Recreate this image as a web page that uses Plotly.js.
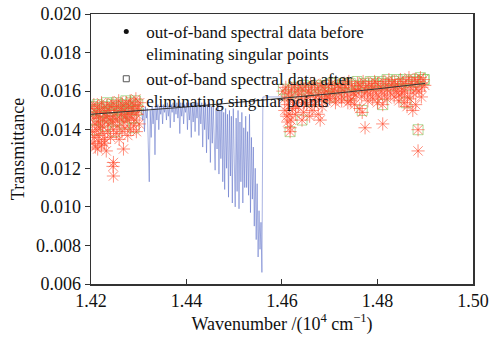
<!DOCTYPE html>
<html><head><meta charset="utf-8">
<script src="https://cdn.plot.ly/plotly-3.0.1.min.js"></script>
<style>html,body{margin:0;padding:0;background:#fff}#chart{width:489px;height:344px}</style>
</head><body><div id="chart"></div>
<script>
// ---- data ----
const xTickVals = [1.42, 1.44, 1.46, 1.48, 1.50];
const xTickText = ['1.42', '1.44', '1.46', '1.48', '1.50'];
const yTickVals = [0.006, 0.008, 0.010, 0.012, 0.014, 0.016, 0.018, 0.020];
const yTickText = ['0.006', '0..008', '0.010', '0.012', '0.014', '0.016', '0.018', '0.020'];

const legendNames = [
  'out-of-band spectral data before<br>eliminating singular points',
  'out-of-band spectral data after<br>eliminating singular points'
];

// in-band spectrum (blue)
const specX = [1.4306,1.4308,1.4310,1.4312,1.4314,1.4316,1.4318,1.4320,1.4322,1.4324,
1.4326,1.4328,1.4330,1.4332,1.4334,1.4336,1.4338,1.4340,1.4342,1.4344,
1.4346,1.4348,1.4350,1.4352,1.4354,1.4356,1.4358,1.4360,1.4362,1.4364,
1.4366,1.4368,1.4370,1.4372,1.4374,1.4376,1.4378,1.4380,1.4382,1.4384,
1.4386,1.4388,1.4390,1.4392,1.4394,1.4396,1.4398,1.4400,1.4402,1.4404,
1.4406,1.4408,1.4410,1.4412,1.4414,1.4416,1.4418,1.4420,1.4422,1.4424,
1.4426,1.4428,1.4430,1.4432,1.4434,1.4436,1.4438,1.4440,1.4442,1.4444,
1.4446,1.4448,1.4450,1.4452,1.4454,1.4456,1.4458,1.4460,1.4462,1.4464,
1.4466,1.4468,1.4470,1.4472,1.4474,1.4476,1.4478,1.4480,1.4482,1.4484,
1.4486,1.4488,1.4490,1.4492,1.4494,1.4496,1.4498,1.4500,1.4502,1.4504,
1.4506,1.4508,1.4510,1.4512,1.4514,1.4516,1.4518,1.4520,1.4522,1.4524,
1.4526,1.4528,1.4530,1.4532,1.4534,1.4536,1.4538,1.4540,1.4542,1.4544,
1.4546,1.4548,1.4550,1.4552,1.4554,1.4556,1.4558,1.4560,1.4562,1.4564,
1.4580,1.4600];
const specY = [0.0150,0.0145,0.0151,0.0139,0.0152,0.0146,0.0151,0.0131,0.0113,0.0150,
0.0136,0.0152,0.0143,0.0151,0.0127,0.0152,0.0145,0.0153,0.0140,0.0152,
0.0148,0.0153,0.0143,0.0153,0.0149,0.0153,0.0145,0.0154,0.0147,0.0153,
0.0141,0.0153,0.0149,0.0154,0.0144,0.0153,0.0148,0.0154,0.0146,0.0153,
0.0138,0.0154,0.0147,0.0154,0.0143,0.0153,0.0149,0.0154,0.0140,0.0154,
0.0145,0.0154,0.0136,0.0153,0.0144,0.0154,0.0139,0.0154,0.0146,0.0154,
0.0137,0.0153,0.0143,0.0154,0.0131,0.0153,0.0140,0.0154,0.0128,0.0153,
0.0135,0.0154,0.0123,0.0152,0.0133,0.0153,0.0126,0.0119,0.0151,0.0130,
0.0153,0.0117,0.0150,0.0125,0.0152,0.0113,0.0149,0.0109,0.0151,0.0120,
0.0148,0.0105,0.0150,0.0116,0.0147,0.0102,0.0151,0.0112,0.0100,0.0146,
0.0108,0.0150,0.0099,0.0144,0.0113,0.0149,0.0102,0.0141,0.0110,0.0147,
0.0110,0.0139,0.0106,0.0148,0.0097,0.0136,0.0104,0.0131,0.0090,0.0120,
0.0083,0.0112,0.0074,0.0098,0.0078,0.0092,0.0066,0.0157,0.0157,0.0157,
0.0157,0.0157];

// fitted trend line (dark)
const fitX = [1.42, 1.43, 1.44, 1.45, 1.46, 1.47, 1.48, 1.49];
const fitY = [0.01480, 0.01498, 0.01518, 0.01540, 0.01562, 0.01586, 0.01612, 0.01640];

// out-of-band points before eliminating singular points (red asterisks)
const beforeX = [
1.4202,1.4206,1.4210,1.4214,1.4218,1.4222,1.4226,1.4230,1.4234,1.4238,1.4242,1.4246,1.4250,1.4254,1.4258,1.4262,1.4266,1.4270,1.4274,1.4278,1.4282,1.4286,1.4290,1.4294,1.4298,1.4302,
1.4204,1.4208,1.4212,1.4216,1.4220,1.4224,1.4228,1.4232,1.4236,1.4240,1.4244,1.4248,1.4252,1.4256,1.4260,1.4264,1.4268,1.4272,1.4276,1.4280,1.4284,1.4288,1.4292,1.4296,1.4300,
1.4203,1.4207,1.4211,1.4215,1.4219,1.4225,1.4229,1.4235,1.4241,1.4247,1.4253,1.4259,1.4265,1.4271,1.4277,1.4283,1.4289,1.4295,1.4301,
1.4204,1.4209,1.4217,1.4222,1.4228,
1.4247,1.4246,1.4247,1.4268,1.4232,1.4214,
1.4602,1.4608,1.4614,1.4620,1.4626,1.4632,1.4638,1.4644,1.4650,1.4656,1.4662,1.4668,1.4674,1.4680,1.4686,1.4692,1.4698,1.4704,1.4710,1.4716,1.4722,1.4728,1.4734,1.4740,1.4746,1.4752,1.4758,1.4764,1.4770,1.4776,1.4782,1.4788,1.4794,1.4800,1.4806,1.4812,1.4818,1.4824,1.4830,1.4836,1.4842,1.4848,1.4854,1.4860,1.4866,1.4872,1.4878,1.4884,1.4890,1.4896,
1.4605,1.4611,1.4617,1.4623,1.4629,1.4635,1.4641,1.4647,1.4653,1.4659,1.4665,1.4671,1.4677,1.4683,1.4689,1.4695,1.4701,1.4707,1.4713,1.4719,1.4725,1.4731,1.4737,1.4743,1.4749,1.4755,1.4761,1.4767,1.4773,1.4779,1.4785,1.4791,1.4797,1.4803,1.4809,1.4815,1.4821,1.4827,1.4833,1.4839,1.4845,1.4851,1.4857,1.4863,1.4869,1.4875,1.4881,1.4887,1.4893,1.4899,
1.4606,1.4610,1.4612,1.4615,1.4617,1.4617,1.4619,1.4622,1.4628,1.4634,1.4642,1.4645,1.4652,1.4658,1.4663,1.4668,1.4676,1.4680,1.4684,1.4692,1.4700,1.4712,1.4725,1.4738,1.4745,1.4752,1.4763,1.4768,1.4774,1.4780,1.4790,1.4800,1.4811,1.4811,1.4820,1.4835,1.4845,1.4851,1.4856,1.4862,1.4868,1.4874,1.4880,1.4885,1.4885,1.4892];
const beforeY = [
0.0151,0.0153,0.0149,0.0152,0.0150,0.0154,0.0151,0.0149,0.0153,0.0150,0.0152,0.0154,0.0150,0.0152,0.0155,0.0151,0.0153,0.0150,0.0154,0.0152,0.0155,0.0151,0.0153,0.0156,0.0152,0.0154,
0.0146,0.0143,0.0147,0.0144,0.0146,0.0142,0.0145,0.0147,0.0143,0.0146,0.0144,0.0147,0.0145,0.0142,0.0146,0.0148,0.0144,0.0147,0.0145,0.0148,0.0146,0.0149,0.0145,0.0148,0.0150,
0.0139,0.0136,0.0140,0.0137,0.0141,0.0138,0.0135,0.0139,0.0136,0.0140,0.0138,0.0135,0.0139,0.0141,0.0137,0.0140,0.0142,0.0139,0.0143,
0.0133,0.0131,0.0134,0.0132,0.0133,
0.0123,0.0121,0.0116,0.0130,0.0129,0.0130,
0.0160,0.0162,0.0159,0.0161,0.0163,0.0160,0.0162,0.0161,0.0163,0.0160,0.0162,0.0164,0.0161,0.0163,0.0162,0.0160,0.0163,0.0164,0.0161,0.0163,0.0162,0.0164,0.0162,0.0165,0.0163,0.0161,0.0164,0.0163,0.0165,0.0162,0.0164,0.0163,0.0165,0.0164,0.0162,0.0165,0.0163,0.0166,0.0164,0.0165,0.0163,0.0166,0.0164,0.0165,0.0167,0.0164,0.0166,0.0165,0.0167,0.0166,
0.0156,0.0153,0.0157,0.0155,0.0152,0.0158,0.0156,0.0154,0.0157,0.0159,0.0155,0.0157,0.0158,0.0156,0.0159,0.0157,0.0158,0.0160,0.0156,0.0159,0.0157,0.0160,0.0158,0.0155,0.0159,0.0158,0.0161,0.0157,0.0159,0.0160,0.0158,0.0161,0.0159,0.0157,0.0160,0.0158,0.0161,0.0159,0.0162,0.0160,0.0158,0.0161,0.0160,0.0157,0.0162,0.0159,0.0161,0.0160,0.0162,0.0163,
0.0150,0.0147,0.0144,0.0148,0.0141,0.0139,0.0145,0.0151,0.0148,0.0152,0.0145,0.0149,0.0153,0.0147,0.0150,0.0153,0.0148,0.0145,0.0152,0.0155,0.0156,0.0154,0.0155,0.0154,0.0156,0.0153,0.0151,0.0149,0.0141,0.0155,0.0156,0.0154,0.0153,0.0143,0.0156,0.0157,0.0155,0.0159,0.0154,0.0152,0.0156,0.0150,0.0153,0.0140,0.0129,0.0157];

// out-of-band points after eliminating singular points (green squares)
const afterX = [
1.4203,1.4208,1.4213,1.4218,1.4223,1.4228,1.4233,1.4238,1.4243,1.4248,1.4253,1.4258,1.4263,1.4268,1.4273,1.4278,1.4283,1.4288,1.4293,1.4298,
1.4205,1.4215,1.4225,1.4235,1.4245,1.4255,1.4265,1.4275,1.4285,1.4295,
1.4210,1.4230,1.4250,1.4270,1.4290,
1.4603,1.4610,1.4617,1.4624,1.4631,1.4638,1.4645,1.4652,1.4659,1.4666,1.4673,1.4680,1.4687,1.4694,1.4701,1.4708,1.4715,1.4722,1.4729,1.4736,1.4743,1.4750,1.4757,1.4764,1.4771,1.4778,1.4785,1.4792,1.4799,1.4806,1.4813,1.4820,1.4827,1.4834,1.4841,1.4848,1.4855,1.4862,1.4869,1.4876,1.4883,1.4890,1.4897,
1.4617,1.4642,1.4768,1.4811,1.4885,1.4660,1.4700,1.4740,1.4860,1.4898];
const afterY = [
0.0152,0.0150,0.0153,0.0151,0.0149,0.0152,0.0154,0.0150,0.0153,0.0151,0.0154,0.0152,0.0150,0.0153,0.0155,0.0151,0.0154,0.0152,0.0155,0.0153,
0.0145,0.0147,0.0144,0.0146,0.0148,0.0145,0.0147,0.0149,0.0146,0.0150,
0.0140,0.0142,0.0139,0.0143,0.0141,
0.0161,0.0158,0.0160,0.0162,0.0159,0.0161,0.0163,0.0160,0.0162,0.0161,0.0163,0.0162,0.0160,0.0163,0.0164,0.0162,0.0161,0.0163,0.0164,0.0162,0.0164,0.0163,0.0165,0.0162,0.0164,0.0163,0.0165,0.0164,0.0163,0.0165,0.0164,0.0166,0.0163,0.0165,0.0166,0.0164,0.0166,0.0165,0.0163,0.0166,0.0165,0.0167,0.0166,
0.0139,0.0145,0.0150,0.0153,0.0140,0.0155,0.0157,0.0158,0.0154,0.0166];

// ---- chart ----
const FONT = 'Liberation Serif';
const FS = 18;
const LFS = 17;
const traces = [
  {x: specX, y: specY, type: 'scatter', mode: 'lines', showlegend: false,
   line: {color: 'rgba(80,100,195,0.7)', width: 0.7}},
  {x: afterX, y: afterY, type: 'scatter', mode: 'markers', showlegend: false,
   marker: {symbol: 'square-open', size: 10, color: 'rgba(120,200,90,0.6)', line: {width: 1}}},
  {x: beforeX, y: beforeY, type: 'scatter', mode: 'markers', showlegend: false,
   marker: {symbol: 'asterisk-open', size: 11, color: 'rgba(255,70,40,0.6)', line: {width: 1, color: 'rgba(255,70,40,0.6)'}}},
  {x: fitX, y: fitY, type: 'scatter', mode: 'lines', showlegend: false,
   line: {color: '#333', width: 1}},
  {x: [null], y: [null], type: 'scatter', mode: 'markers', name: legendNames[0],
   marker: {symbol: 'circle', size: 5, color: '#111'}},
  {x: [null], y: [null], type: 'scatter', mode: 'markers', name: legendNames[1],
   marker: {symbol: 'square-open', size: 6, color: '#555', line: {width: 1}}}
];

const layout = {
  width: 489, height: 344,
  margin: {l: 91, r: 16, t: 14, b: 60},
  paper_bgcolor: '#fff', plot_bgcolor: '#fff',
  font: {family: FONT, size: FS, color: '#111'},
  xaxis: {
    range: [1.42, 1.50001], tickvals: xTickVals, ticktext: xTickText,
    ticks: 'inside', ticklen: 5, tickwidth: 1, tickcolor: '#333',
    showline: true, linecolor: '#333', linewidth: 1.5, mirror: true,
    showgrid: false, zeroline: false, ticklabeloverflow: 'allow',
    tickfont: {family: FONT, size: FS, color: '#111'},
    title: {text: 'Wavenumber /(10<sup>4</sup> cm<sup>−1</sup>)', font: {family: FONT, size: FS, color: '#111'}, standoff: 2}
  },
  yaxis: {
    range: [0.006, 0.02000001], tickvals: yTickVals, ticktext: yTickText,
    ticks: 'outside', ticklen: 5, tickwidth: 1, tickcolor: '#333',
    showline: true, linecolor: '#333', linewidth: 1.5, mirror: true,
    showgrid: false, zeroline: false, ticklabeloverflow: 'allow',
    tickfont: {family: FONT, size: FS, color: '#111'},
    title: {text: 'Transmittance', font: {family: FONT, size: FS, color: '#111'}, standoff: 6}
  },
  legend: {
    x: 0.04, y: 1.0, xanchor: 'left', yanchor: 'top',
    bgcolor: 'rgba(0,0,0,0)', borderwidth: 0, valign: 'top',
    font: {family: FONT, size: LFS, color: '#111'},
    tracegroupgap: 0
  },
  showlegend: true
};

Plotly.newPlot('chart', traces, layout, {displayModeBar: false, staticPlot: true});
</script>
</body></html>
